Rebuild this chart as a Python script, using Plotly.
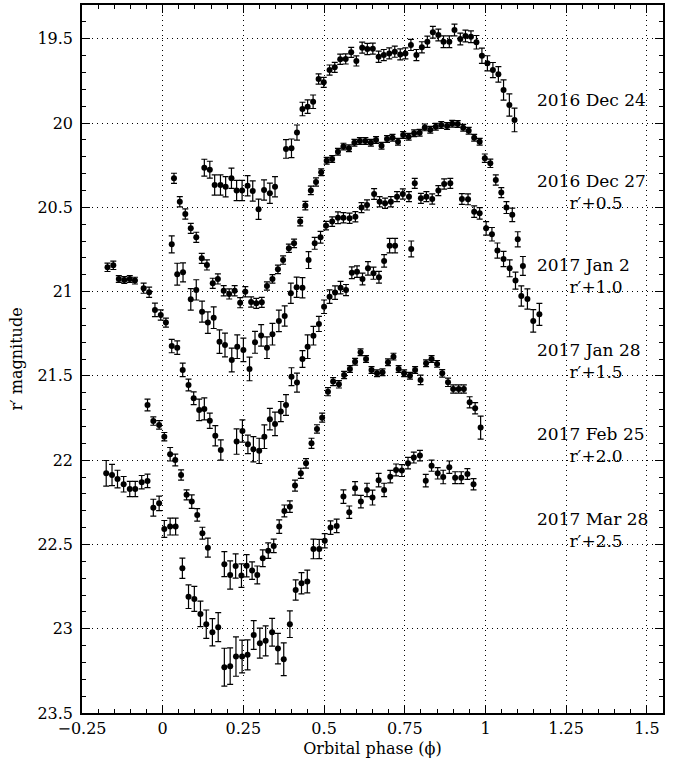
import plotly.graph_objects as go

# ---------------- data ----------------
dec24_phase = [0.129,0.146,0.161,0.179,0.195,0.213,0.229,0.246,0.263,0.279,0.297,0.314,0.332,0.348,
               0.382,0.399,0.416,0.433,0.449,0.466,0.483,0.499,0.517,0.533,0.550,0.567,0.584,0.600,
               0.618,0.634,0.651,0.669,0.685,0.702,0.719,0.736,0.752,0.769,0.786,0.803,0.820,0.837,
               0.854,0.870,0.888,0.904,0.922,0.938,0.955,0.972,0.989,1.006,1.023,1.040,1.056,1.074,1.090]
dec24_mag = [20.265,20.277,20.368,20.368,20.378,20.328,20.40,20.40,20.372,20.403,20.512,20.397,20.417,20.378,
             20.154,20.150,20.057,19.917,19.903,19.874,19.739,19.759,19.686,19.670,19.622,19.620,19.581,19.632,
             19.553,19.561,19.559,19.607,19.597,19.587,19.577,19.593,19.587,19.537,19.597,19.551,19.518,19.462,
             19.478,19.518,19.518,19.448,19.502,19.484,19.488,19.521,19.601,19.646,19.686,19.711,19.804,19.893,19.982]
dec24_err = [0.05,0.05,0.06,0.06,0.06,0.06,0.06,0.06,0.06,0.06,0.06,0.06,0.06,0.06,
             0.055,0.055,0.045,0.04,0.04,0.04,0.03,0.03,0.03,0.03,0.03,0.03,0.03,0.03,
             0.033,0.033,0.033,0.033,0.033,0.033,0.033,0.033,0.033,0.033,0.033,0.033,0.033,0.035,
             0.035,0.035,0.035,0.035,0.035,0.035,0.035,0.04,0.045,0.045,0.045,0.046,0.06,0.066,0.07]

dec27_phase = [0.035,0.053,0.070,0.087,0.104,0.121,0.137,0.155,0.171,0.189,0.206,0.223,0.240,0.256,0.274,0.290,0.307,
               0.323,0.340,0.357,0.373,0.391,0.407,0.426,0.442,0.459,0.475,0.491,0.508,0.525,0.543,0.560,0.577,
               0.594,0.611,0.628,0.645,0.661,0.678,0.695,0.712,0.729,0.745,0.762,0.779,0.796,0.812,0.829,0.846,
               0.863,0.881,0.897,0.914,0.931,0.948,0.965,0.982,0.998,1.015,1.032,1.049,1.065,1.083,1.100,1.116]
dec27_mag = [20.328,20.467,20.540,20.625,20.678,20.803,20.842,20.951,20.925,20.995,21.014,20.995,21.066,21.001,21.062,21.070,21.064,
             20.967,20.925,20.868,20.813,20.743,20.714,20.585,20.490,20.400,20.350,20.292,20.224,20.214,20.170,20.140,20.150,
             20.117,20.107,20.107,20.117,20.101,20.135,20.095,20.087,20.111,20.071,20.081,20.061,20.058,20.026,20.040,20.022,
             20.012,20.018,20.004,20.006,20.028,20.046,20.087,20.111,20.209,20.239,20.338,20.413,20.502,20.545,20.690,20.848]
dec27_err = [0.03]*17 + [0.025]*10 + [0.02]*30 + [0.025,0.025,0.03,0.03,0.035,0.04,0.045,0.056]

jan2_phase = [0.028,0.045,0.063,0.087,0.104,0.122,0.140,0.158,0.176,0.193,0.214,0.231,0.250,0.269,0.286,0.305,
              0.323,0.340,0.360,0.378,0.397,0.415,0.433,0.452,0.471,0.489,0.506,0.525,0.543,0.560,0.579,0.597,
              0.616,0.633,0.655,0.672,0.689,0.707,0.726,0.744,0.763,0.781,0.800,0.817,0.835,0.854,0.872,0.891,
              0.927,0.946,0.965,0.982,1.002,1.020,1.037,1.056,1.075,1.093,1.111,1.130,1.148,1.167]
jan2_mag = [20.720,20.897,20.886,21.046,20.990,21.119,21.184,21.155,21.297,21.317,21.406,21.327,21.346,21.459,21.301,21.260,
            21.333,21.253,21.174,21.145,21.010,20.974,20.977,20.813,20.714,20.678,20.609,20.585,20.562,20.562,20.565,20.556,
            20.502,20.486,20.421,20.467,20.476,20.467,20.437,20.421,20.437,20.358,20.447,20.437,20.451,20.401,20.362,20.358,
            20.451,20.453,20.526,20.536,20.625,20.660,20.757,20.807,20.862,20.935,21.026,21.044,21.174,21.135]
jan2_err = [0.05,0.065,0.056,0.064,0.06,0.062,0.064,0.064,0.07,0.07,0.07,0.07,0.07,0.07,0.065,0.064,
            0.064,0.064,0.064,0.06,0.06,0.06,0.06,0.05,0.035,0.035,0.025,0.028,0.035,0.03,0.03,0.03,
            0.03,0.03,0.032,0.03,0.03,0.03,0.03,0.03,0.03,0.03,0.03,0.03,0.03,0.03,0.03,0.03,
            0.032,0.032,0.034,0.034,0.04,0.04,0.045,0.045,0.05,0.05,0.06,0.06,0.067,0.065]

jan28_phase = [-0.171,-0.153,-0.136,-0.119,-0.102,-0.086,-0.059,-0.042,-0.024,-0.006,0.010,0.028,0.045,0.062,
               0.080,0.096,0.113,0.129,0.146,0.163,0.180,0.229,0.247,0.264,0.281,0.299,0.315,0.332,0.348,
               0.366,0.382,0.399,0.416,0.433,0.449,0.467,0.484,0.500,0.517,0.534,0.551,0.568,0.586,0.602,
               0.619,0.636,0.653,0.670,0.686,0.703,0.720,0.770]
jan28_mag = [20.856,20.844,20.925,20.931,20.925,20.935,20.980,21.004,21.109,21.139,21.184,21.323,21.333,21.465,
             21.554,21.633,21.702,21.696,21.766,21.855,21.940,21.890,21.827,21.906,21.935,21.945,21.861,21.757,21.785,
             21.712,21.673,21.505,21.540,21.400,21.327,21.262,21.192,21.090,21.030,21.006,20.977,20.991,20.888,20.882,
             20.925,20.862,20.891,20.915,20.818,20.728,20.728,20.747]
jan28_err = [0.025,0.025,0.02,0.02,0.02,0.02,0.03,0.03,0.04,0.03,0.027,0.04,0.04,0.04,
             0.035,0.038,0.064,0.065,0.045,0.06,0.06,0.075,0.066,0.055,0.075,0.075,0.07,0.064,0.07,
             0.06,0.062,0.053,0.056,0.05,0.07,0.055,0.045,0.04,0.04,0.04,0.037,0.033,0.035,0.034,
             0.035,0.04,0.036,0.035,0.037,0.043,0.043,0.047]

feb25_phase = [-0.047,-0.029,-0.011,0.005,0.023,0.039,0.057,0.074,0.090,0.107,0.123,0.140,0.191,0.209,0.226,
               0.244,0.260,0.277,0.293,0.310,0.327,0.344,0.361,0.377,0.394,0.410,0.428,0.444,0.461,0.478,
               0.494,0.512,0.528,0.546,0.562,0.580,0.596,0.613,0.630,0.647,0.664,0.681,0.698,0.715,0.731,
               0.748,0.766,0.782,0.799,0.816,0.833,0.850,0.866,0.884,0.900,0.917,0.933,0.951,0.968,0.985]
feb25_mag = [21.673,21.768,21.791,21.861,21.965,21.999,22.088,22.206,22.246,22.325,22.433,22.519,22.617,22.681,22.628,
             22.685,22.626,22.655,22.681,22.582,22.537,22.509,22.394,22.301,22.276,22.151,22.078,22.019,21.900,21.815,
             21.748,21.594,21.534,21.550,21.495,21.459,21.416,21.360,21.400,21.465,21.485,21.479,21.419,21.386,21.459,
             21.485,21.499,21.465,21.524,21.425,21.400,21.429,21.485,21.538,21.578,21.578,21.578,21.657,21.692,21.807]
feb25_err = [0.035,0.025,0.025,0.025,0.04,0.035,0.03,0.03,0.04,0.037,0.035,0.056,0.074,0.084,0.072,
             0.07,0.066,0.052,0.053,0.05,0.046,0.04,0.04,0.035,0.034,0.033,0.03,0.028,0.03,0.025,
             0.027,0.024,0.024,0.022,0.022,0.02,0.02,0.02,0.02,0.02,0.02,0.02,0.02,0.02,0.02,
             0.02,0.02,0.02,0.028,0.02,0.02,0.02,0.022,0.025,0.025,0.025,0.025,0.033,0.033,0.068]

mar28_phase = [-0.175,-0.157,-0.140,-0.121,-0.102,-0.085,-0.065,-0.047,-0.029,-0.011,0.005,0.023,0.040,0.061,
               0.080,0.098,0.117,0.135,0.154,0.172,0.191,0.209,0.227,0.246,0.263,0.282,0.301,0.319,0.339,
               0.357,0.375,0.394,0.412,0.430,0.448,0.467,0.485,0.502,0.520,0.539,0.560,0.578,0.596,0.614,
               0.633,0.650,0.669,0.686,0.705,0.723,0.741,0.760,0.778,0.797,0.815,0.833,0.852,0.869,0.888,
               0.906,0.925,0.944,0.963]
mar28_mag = [22.078,22.088,22.112,22.143,22.171,22.171,22.131,22.123,22.282,22.256,22.408,22.394,22.394,22.641,
             22.810,22.823,22.912,22.973,23.021,22.991,23.228,23.222,23.165,23.165,23.155,23.037,23.086,23.072,23.021,
             23.118,23.181,22.973,22.770,22.730,22.720,22.527,22.527,22.478,22.400,22.390,22.216,22.309,22.167,22.246,
             22.177,22.222,22.119,22.177,22.098,22.058,22.062,22.018,21.985,21.973,22.122,22.033,22.078,22.100,22.042,
             22.104,22.104,22.082,22.143]
mar28_err = [0.076,0.063,0.052,0.046,0.045,0.045,0.04,0.04,0.05,0.043,0.05,0.05,0.05,0.06,
             0.07,0.074,0.076,0.084,0.081,0.086,0.112,0.108,0.117,0.097,0.089,0.085,0.089,0.089,0.082,
             0.09,0.097,0.079,0.06,0.063,0.067,0.058,0.057,0.042,0.04,0.04,0.04,0.037,0.04,0.037,
             0.04,0.044,0.04,0.04,0.037,0.035,0.035,0.034,0.032,0.031,0.037,0.033,0.034,0.04,0.037,
             0.035,0.035,0.032,0.033]

series = [
    ("2016 Dec 24", dec24_phase, dec24_mag, dec24_err),
    ("2016 Dec 27", dec27_phase, dec27_mag, dec27_err),
    ("2017 Jan 2", jan2_phase, jan2_mag, jan2_err),
    ("2017 Jan 28", jan28_phase, jan28_mag, jan28_err),
    ("2017 Feb 25", feb25_phase, feb25_mag, feb25_err),
    ("2017 Mar 28", mar28_phase, mar28_mag, mar28_err),
]

# curve labels: date line, offset line (None for the un-shifted curve), label centre magnitude
curve_labels = [("2016 Dec 24", None, 19.864), ("2016 Dec 27", "r′+0.5", 20.41),
                ("2017 Jan 2", "r′+1.0", 20.91), ("2017 Jan 28", "r′+1.5", 21.41),
                ("2017 Feb 25", "r′+2.0", 21.91), ("2017 Mar 28", "r′+2.5", 22.415)]
label_x = 1.152
NBSP = "\u00a0"

FONT = "DejaVu Serif"

fig = go.Figure()
for name, ph, mg, er in series:
    fig.add_trace(go.Scatter(
        x=ph, y=mg, mode="markers", name=name,
        marker=dict(color="black", size=6),
        error_y=dict(type="data", array=er, visible=True, color="black", thickness=1.2, width=3),
        showlegend=False,
    ))

for date, off, yv in curve_labels:
    txt = date if off is None else date + "<br>" + NBSP * 6 + off
    fig.add_annotation(x=label_x, y=yv, xref="x", yref="y", text=txt, showarrow=False,
                       xanchor="left", yanchor="middle", align="left",
                       font=dict(family=FONT, size=17, color="black"))

axis_common = dict(
    showline=True, linecolor="black", linewidth=1.5, mirror="allticks",
    ticks="inside", tickcolor="black", tickwidth=1, ticklen=8,
    showgrid=True, gridcolor="black", gridwidth=1, griddash="1px,4px",
    zeroline=False, tickfont=dict(family=FONT, size=16, color="black"),
)

fig.update_xaxes(
    range=[-0.25, 1.55], tick0=0, dtick=0.25,
    minor=dict(dtick=0.05, ticks="inside", ticklen=4, tickcolor="black", tickwidth=1, showgrid=False),
    title=dict(text="Orbital phase (ϕ)", font=dict(family=FONT, size=16, color="black"), standoff=6),
    **axis_common,
)
fig.update_yaxes(
    range=[23.5, 19.3], tick0=19.5, dtick=0.5, ticklabelstandoff=4,
    minor=dict(dtick=0.1, ticks="inside", ticklen=4, tickcolor="black", tickwidth=1, showgrid=False),
    title=dict(text="r′ magnitude", font=dict(family=FONT, size=16, color="black"), standoff=11),
    **axis_common,
)

fig.update_layout(
    width=681, height=764,
    margin=dict(l=82, r=18, t=5, b=51, autoexpand=False),
    plot_bgcolor="white", paper_bgcolor="white",
    font=dict(family=FONT, color="black"),
)

fig.write_html("out.html", config={"displayModeBar": False},
               post_script="document.body.style.margin='0';")
